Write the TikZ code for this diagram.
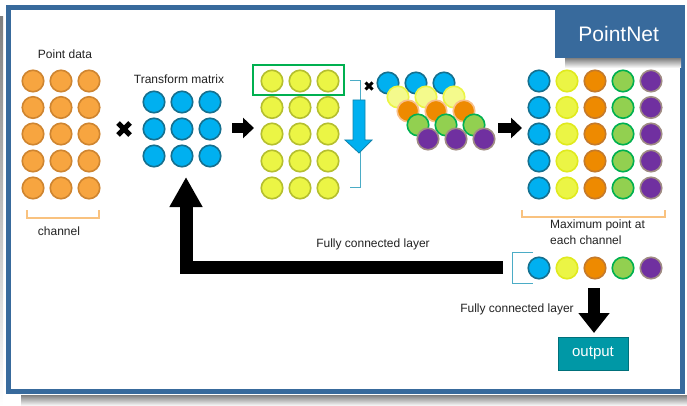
\documentclass[tikz,border=0pt]{standalone}
\usepackage{fontspec}
\setmainfont{Liberation Sans}
\usetikzlibrary{arrows.meta,calc}
\definecolor{frameblue}{HTML}{386A9C}
\definecolor{shade}{HTML}{BFBFBF}
\definecolor{orgfill}{HTML}{F7A540}
\definecolor{orgdraw}{HTML}{CF8530}
\definecolor{cyanfill}{HTML}{00B0F0}
\definecolor{cyandraw}{HTML}{15708F}
\definecolor{yelfill}{HTML}{EBF545}
\definecolor{yeldraw}{HTML}{B5BF2E}
\definecolor{yelbright}{HTML}{E0EA1E}
\definecolor{paleyel}{HTML}{F4FA8C}
\definecolor{deeporg}{HTML}{EE8A00}
\definecolor{deeporgdraw}{HTML}{C47A2C}
\definecolor{glow}{HTML}{F9C08A}
\definecolor{lgreen}{HTML}{92D050}
\definecolor{dgreen}{HTML}{00B050}
\definecolor{purp}{HTML}{7030A0}
\definecolor{purpdraw}{HTML}{A08C84}
\definecolor{teal}{HTML}{4BACC6}
\definecolor{outfill}{HTML}{0098A6}
\definecolor{outdraw}{HTML}{00707A}
\definecolor{lorange}{HTML}{F9C27F}
\definecolor{ink}{HTML}{222222}
\tikzset{
  dot/.style={circle, minimum size=21.5pt, inner sep=0pt, line width=1.6pt},
  lbl/.style={font=\fontsize{12}{16}\selectfont, text=ink, inner sep=0pt},
  blockarrow/.style={line width=10pt, -{Triangle[width=20pt,length=11pt]}},
  bigarrow/.style={line width=13pt, line join=miter, -{Triangle[width=31pt,length=30pt]}},
  crossmark/.style={line width=5pt},
  bracket/.style={line width=1.3pt}
}
\begin{document}
\begin{tikzpicture}[x=1pt,y=-1pt]
\useasboundingbox (0,0) rectangle (687,406);
% drop shadow and frame
\fill[shade] (0,17) rectangle (3,406);
\fill[shade] (21,395) rectangle (687,406);
\fill[white] (8.5,7.5) rectangle (682.5,391);
\draw[frameblue, line width=5pt] (8.5,7.5) rectangle (682.5,391);
% title tab
\fill[shade] (565,58) rectangle (681,68);
\node[fill=frameblue, minimum width=127pt, minimum height=48pt, anchor=north west, inner sep=0pt,
      text=white, font=\fontsize{21}{24}\selectfont] (title) at (555,10) {PointNet};

% point data
\node[lbl] (ptlbl) at (65,54) {Point data};
\foreach \r/\y in {1/81,2/107.5,3/134,4/161,5/188}
  \foreach \c/\x in {1/33,2/61,3/89}
    \node[dot, fill=orgfill, draw=orgdraw] (p-\r-\c) at (\x,\y) {};
\draw[bracket, lorange] (27,210) -- (27,218) -- (99,218) -- (99,210);
\node[lbl] (chlbl) at (59,231) {channel};

% multiplication sign
\coordinate (x1) at (124,129);
\draw[crossmark] ($(x1)+(-6,-6)$) -- ($(x1)+(6,6)$);
\draw[crossmark] ($(x1)+(-6,6)$) -- ($(x1)+(6,-6)$);

% transform matrix
\node[lbl] (tmlbl) at (179,79) {Transform matrix};
\foreach \r/\y in {1/102,2/129,3/156}
  \foreach \c/\x in {1/154,2/182,3/210}
    \node[dot, fill=cyanfill, draw=cyandraw] (t-\r-\c) at (\x,\y) {};

% arrow to transformed points
\draw[blockarrow] (232,128) -- (254,128);

% transformed points
\foreach \r/\y in {1/81,2/107.5,3/134,4/161,5/188}
  \foreach \c/\x in {1/272,2/300,3/328}
    \node[dot, fill=yelfill, draw=yeldraw] (y-\r-\c) at (\x,\y) {};
\draw[dgreen, line width=2pt] (253,65) rectangle (344,95);
\draw[bracket, teal, line width=1pt] (350,81) -- (360,81) -- (360,187) -- (350,187);
\fill[cyanfill, draw=cyandraw!70!cyanfill, line width=0.8pt]
  (353,100) -- (365,100) -- (365,140) -- (372,140) -- (359,153) -- (345,140) -- (353,140) -- cycle;

% small multiplication sign
\coordinate (x2) at (369,86);
\draw[line width=3pt] ($(x2)+(-3.5,-3.5)$) -- ($(x2)+(3.5,3.5)$);
\draw[line width=3pt] ($(x2)+(-3.5,3.5)$) -- ($(x2)+(3.5,-3.5)$);

% stacked feature layers
\foreach \i/\f/\d in {0/cyanfill/cyandraw, 1/paleyel/yelfill, 2/deeporg/glow, 3/lgreen/dgreen, 4/purp/purpdraw}
  \foreach \c in {0,1,2}
    \node[dot, fill=\f, draw=\d] (s-\i-\c) at ({388+10*\i+28*\c},{83+14*\i}) {};

% arrow to feature matrix
\draw[blockarrow] (498,128) -- (522,128);

% feature matrix
\foreach \r/\y in {1/81,2/107.5,3/134,4/161,5/188} {
  \node[dot, fill=cyanfill, draw=cyandraw] (m-\r-1) at (539,\y) {};
  \node[dot, fill=yelfill, draw=yelbright] (m-\r-2) at (567,\y) {};
  \node[dot, fill=deeporg, draw=deeporgdraw] (m-\r-3) at (595,\y) {};
  \node[dot, fill=lgreen, draw=dgreen] (m-\r-4) at (623,\y) {};
  \node[dot, fill=purp, draw=purpdraw] (m-\r-5) at (651,\y) {};
}
\draw[bracket, lorange] (522,210) -- (522,217) -- (665,217) -- (665,210);
\node[lbl, align=left, anchor=north west] (maxlbl) at (550,220) {Maximum point at\\each channel};

% max-pooled vector
\node[dot, fill=cyanfill, draw=cyandraw] (v1) at (539,268) {};
\node[dot, fill=yelfill, draw=yelbright] (v2) at (567,268) {};
\node[dot, fill=deeporg, draw=deeporgdraw] (v3) at (595,268) {};
\node[dot, fill=lgreen, draw=dgreen] (v4) at (623,268) {};
\node[dot, fill=purp, draw=purpdraw] (v5) at (651,268) {};
\draw[teal, line width=1pt] (533,252) -- (512,252) -- (512,283) -- (533,283);

% feedback to the transform matrix
\coordinate (fbstart) at (503,267.5);
\coordinate (fbend) at (186,177);
\draw[bigarrow] (fbstart) -| (fbend);
\node[lbl] (fc1) at (373,244) {Fully connected layer};

% output
\node[fill=outfill, draw=outdraw, line width=1pt, minimum width=70pt, minimum height=33pt, inner sep=0pt,
      text=white, font=\fontsize{15}{18}\selectfont] (out) at (593,353.5) {output};
\coordinate (dstart) at (594,288);
\draw[line width=12pt, -{Triangle[width=30pt,length=20pt]}] (dstart) -- (594,333);
\node[lbl] (fc2) at (517,309) {Fully connected layer};
\end{tikzpicture}
\end{document}
